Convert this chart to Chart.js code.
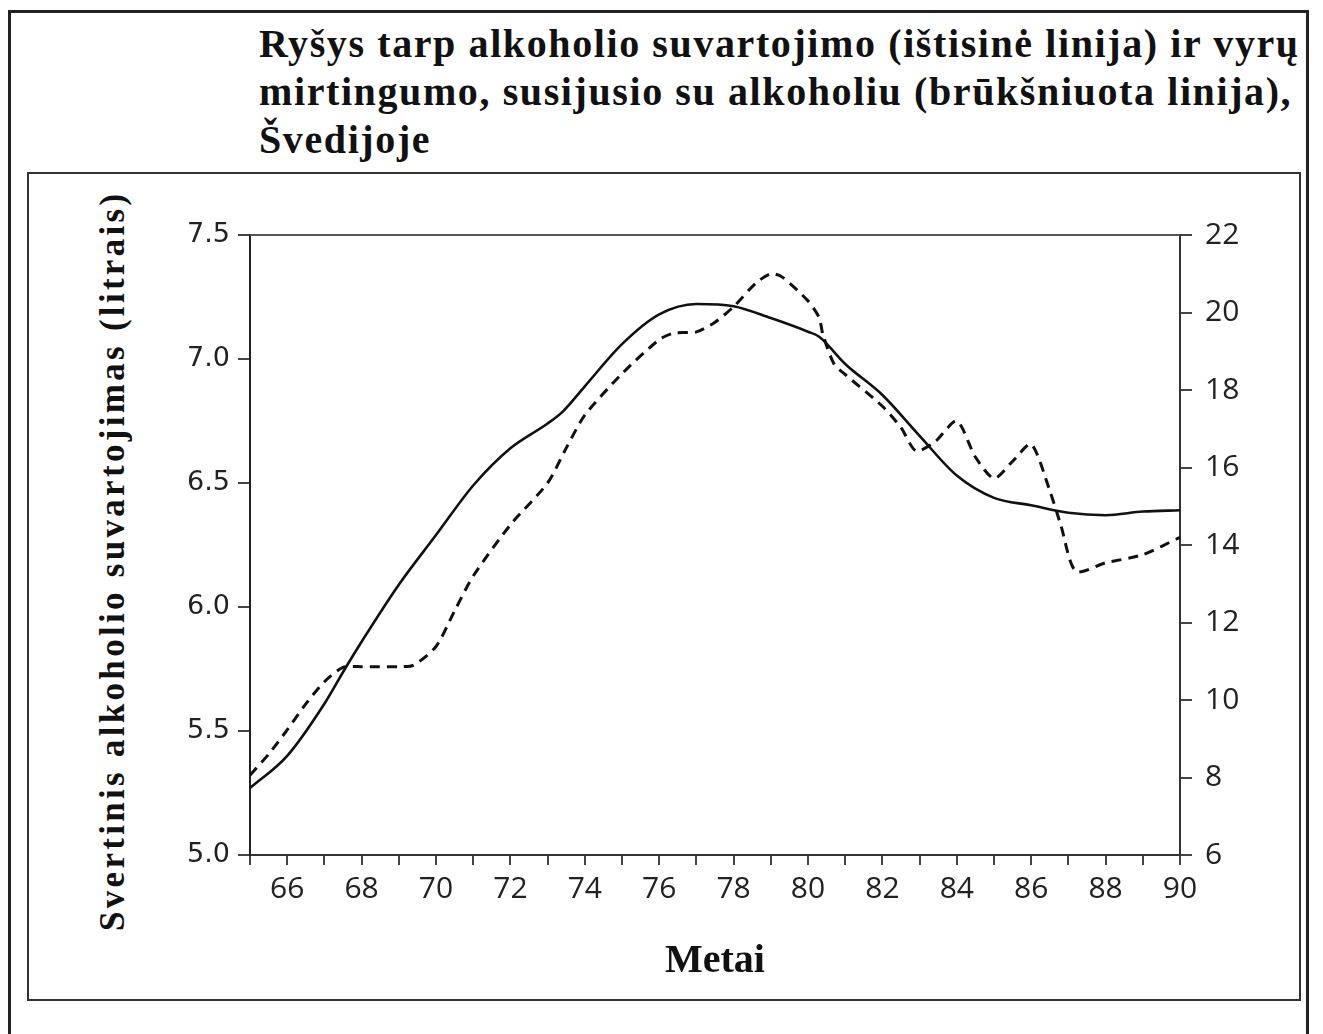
<!DOCTYPE html>
<html>
<head>
<meta charset="utf-8">
<script src="https://cdn.jsdelivr.net/npm/chart.js@4/dist/chart.umd.min.js"></script>
<style>
  html, body { margin:0; padding:0; background:#fff; width:1323px; height:1034px; overflow:hidden; }
  #outer { position:absolute; left:8px; top:10px; width:1301px; height:1030px; border:3px solid #222; box-sizing:border-box; }
  #inner { position:absolute; left:27px; top:172px; width:1274px; height:829px; border:2px solid #333; box-sizing:border-box; }
  #title { position:absolute; left:259px; top:20px; font-family:"Liberation Serif","Times New Roman",serif; font-weight:bold; font-size:40px; line-height:48px; letter-spacing:1.6px; color:#111; white-space:nowrap; }
  #ytitle { position:absolute; left:-257px; top:540px; width:740px; height:42px; line-height:42px; text-align:center; transform:rotate(-90deg); transform-origin:50% 50%; font-family:"Liberation Serif","Times New Roman",serif; font-weight:bold; font-size:35px; letter-spacing:3.3px; color:#111; white-space:nowrap; }
  #c { position:absolute; left:0; top:0; }
</style>
</head>
<body>
<div id="outer"></div>
<div id="inner"></div>
<div id="title">Ryšys tarp alkoholio suvartojimo (ištisinė linija) ir vyrų<br>mirtingumo, susijusio su alkoholiu (brūkšniuota linija),<br>Švedijoje</div>
<div id="ytitle">Svertinis alkoholio suvartojimas (litrais)</div>
<canvas id="c" width="1323" height="1034"></canvas>
<script>
// Solid line: weighted alcohol consumption (litres), left axis
const consumptionYears = [65,66,67,67.55,68,69,70,71,72,73,73.4,74,75,76,77,78,79,80,80.3,81,82,83,84,85,86,87,88,89,90];
const consumptionValues = [5.27,5.4,5.61,5.75,5.86,6.09,6.29,6.49,6.64,6.74,6.787,6.89,7.06,7.18,7.222,7.213,7.165,7.11,7.09,6.98,6.855,6.69,6.53,6.44,6.41,6.38,6.37,6.385,6.39];

// Dashed line: alcohol-related male mortality, right axis
const mortalityYears = [65,65.5,66,66.5,67,67.5,68,69,69.4,70,70.5,71,72,73,73.5,74,75,76,76.4,77,77.5,78,78.6,79,79.3,80,80.3,80.4,80.7,81,82,82.5,82.9,83.4,84,84.5,85,85.5,86,86.5,86.8,87.2,88,89,90];
const mortalityValues = [8.06,8.6,9.23,9.9,10.47,10.84,10.86,10.86,10.9,11.38,12.3,13.2,14.52,15.6,16.5,17.35,18.42,19.3,19.47,19.5,19.75,20.15,20.76,21.0,20.92,20.3,19.87,19.43,18.67,18.4,17.58,17.03,16.43,16.65,17.2,16.27,15.72,16.16,16.6,15.4,14.5,13.32,13.54,13.75,14.2];

const xTickLabels = [66,68,70,72,74,76,78,80,82,84,86,88,90];
const leftTicks = [5.0,5.5,6.0,6.5,7.0,7.5];
const rightTicks = [6,8,10,12,14,16,18,20,22];

const xTitle = "Metai";

const toPoints = (xs, ys) => xs.map((x, i) => ({x: x, y: ys[i]}));

const topLine = {
  id: 'topLine',
  afterDatasetsDraw(chart) {
    const {ctx, chartArea} = chart;
    ctx.save();
    ctx.strokeStyle = '#555';
    ctx.lineWidth = 2;
    ctx.beginPath();
    ctx.moveTo(chartArea.left, chartArea.top);
    ctx.lineTo(chartArea.right, chartArea.top);
    ctx.stroke();
    ctx.restore();
  }
};

new Chart(document.getElementById('c'), {
  type: 'line',
  data: {
    datasets: [
      {
        data: toPoints(consumptionYears, consumptionValues),
        yAxisID: 'yL',
        borderColor: '#111',
        borderWidth: 2.6,
        pointRadius: 0,
        cubicInterpolationMode: 'monotone',
        fill: false
      },
      {
        data: toPoints(mortalityYears, mortalityValues),
        yAxisID: 'yR',
        borderColor: '#111',
        borderWidth: 3,
        borderDash: [10, 7],
        pointRadius: 0,
        tension: 0.25,
        fill: false
      }
    ]
  },
  options: {
    responsive: false,
    animation: false,
    devicePixelRatio: 1,
    layout: { padding: { top: 235, left: 0, right: 0, bottom: 0 } },
    plugins: { legend: { display: false }, tooltip: { enabled: false } },
    scales: {
      x: {
        type: 'linear',
        position: 'bottom',
        min: 65, max: 90,
        afterBuildTicks(scale) {
          const t = [];
          for (let v = 65; v <= 90; v++) t.push({value: v});
          scale.ticks = t;
        },
        afterFit(scale) { scale.height = 179; },
        ticks: {
          autoSkip: false,
          maxRotation: 0,
          padding: 6,
          color: '#222',
          font: { family: '"Open Sans"', size: 30 },
          callback: (v) => xTickLabels.includes(v) ? String(v) : ''
        },
        grid: { drawOnChartArea: false, drawTicks: true, tickLength: 10, color: '#444', lineWidth: 2 },
        border: { display: true, color: '#333', width: 2 },
        title: {
          display: true,
          text: xTitle,
          color: '#111',
          font: { family: '"Liberation Serif"', size: 40, weight: 'bold' },
          padding: { top: 0, bottom: 48 }
        }
      },
      yL: {
        type: 'linear',
        position: 'left',
        min: 5, max: 7.5,
        afterBuildTicks(scale) { scale.ticks = leftTicks.map(v => ({value: v})); },
        afterFit(scale) { scale.width = 250; },
        ticks: {
          padding: 8,
          color: '#222',
          font: { family: '"DejaVu Sans"', size: 27 },
          callback: (v) => Number(v).toFixed(1)
        },
        grid: { drawOnChartArea: false, drawTicks: true, tickLength: 12, color: '#444', lineWidth: 2 },
        border: { display: true, color: '#222', width: 2 }
      },
      yR: {
        type: 'linear',
        position: 'right',
        min: 6, max: 22,
        afterBuildTicks(scale) { scale.ticks = rightTicks.map(v => ({value: v})); },
        afterFit(scale) { scale.width = 143; },
        ticks: {
          padding: 13,
          color: '#222',
          font: { family: '"Open Sans"', size: 30 },
          callback: (v) => String(v)
        },
        grid: { drawOnChartArea: false, drawTicks: true, tickLength: 12, color: '#444', lineWidth: 2 },
        border: { display: true, color: '#333', width: 2 }
      }
    }
  },
  plugins: [topLine]
});
</script>
</body>
</html>
